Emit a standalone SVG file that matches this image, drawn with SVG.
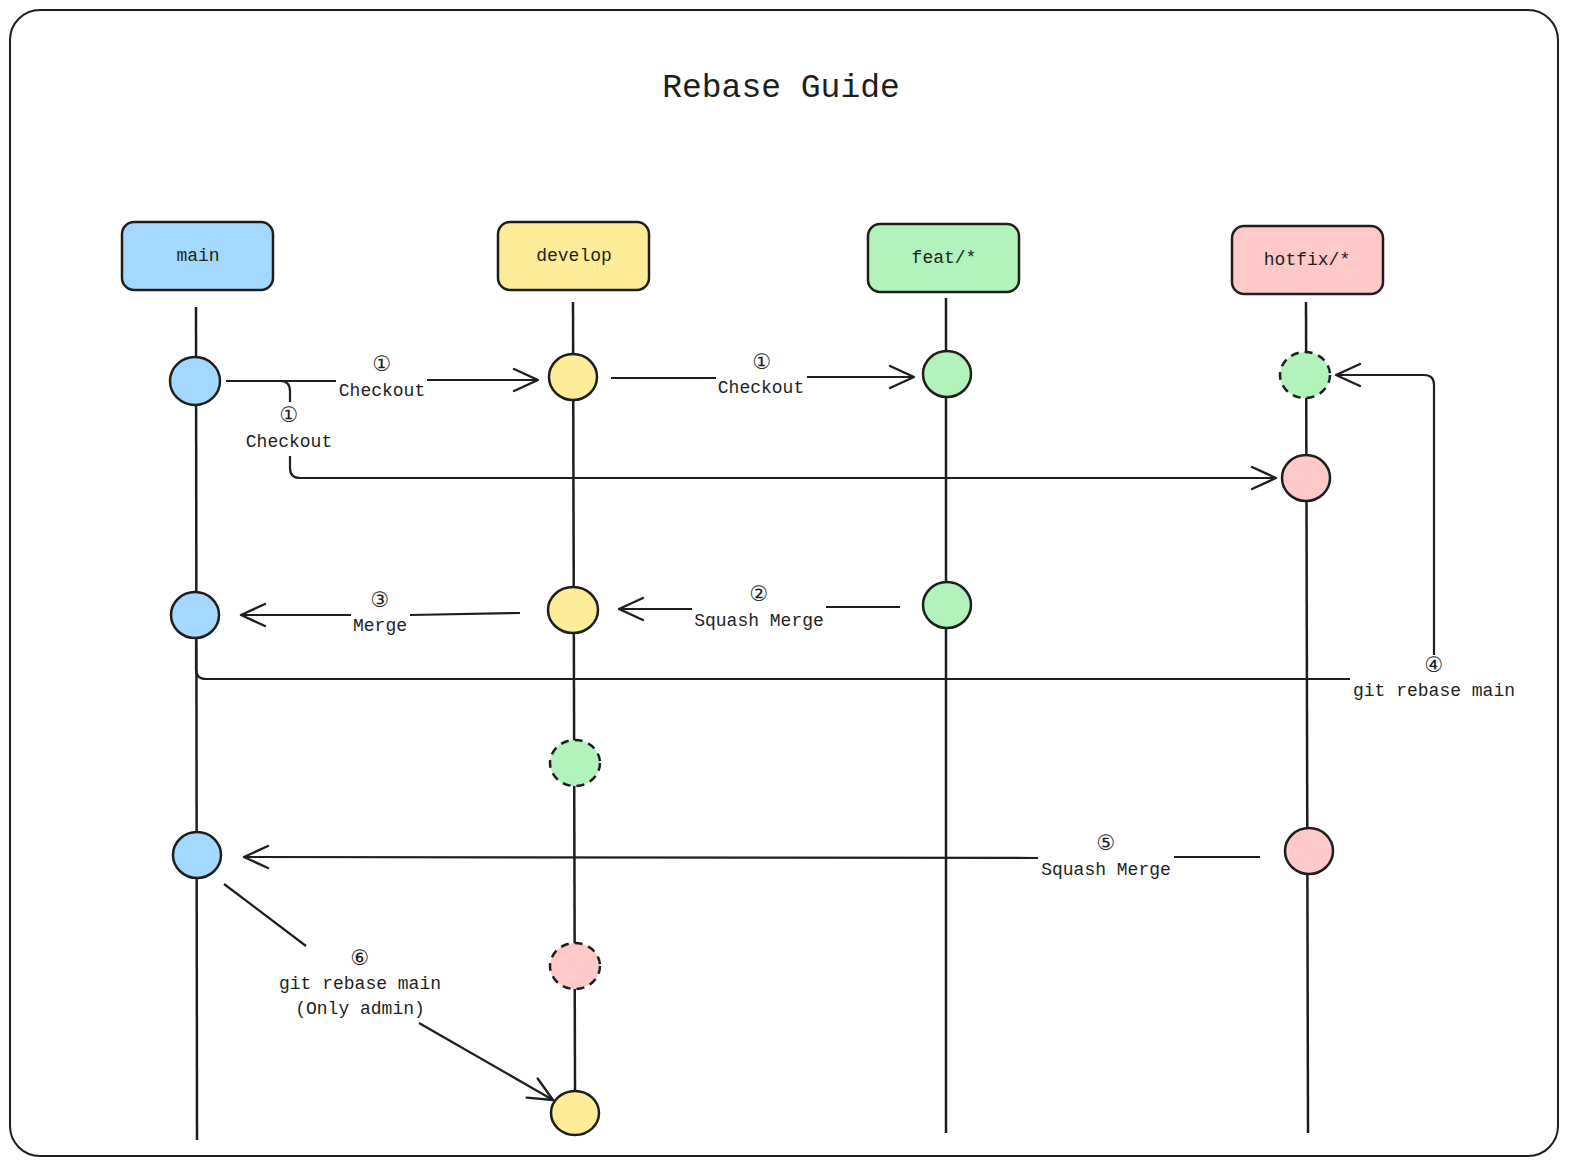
<svg xmlns="http://www.w3.org/2000/svg" width="1569" height="1166" viewBox="0 0 1569 1166">
<style>
text{font-family:"Liberation Mono","DejaVu Sans Mono",monospace;fill:#1e1e1e;text-anchor:middle}
.t{font-size:18px}
.n{font-family:"DejaVu Sans","Noto Sans",sans-serif;font-size:21px}
.title{font-size:33px}
.box{stroke:#1e1e1e;stroke-width:2.5}
.lane{stroke:#1e1e1e;stroke-width:2.5;fill:none}
.c{stroke:#1e1e1e;stroke-width:2.5}
.d{stroke-dasharray:8 6}
.e{stroke:#1e1e1e;stroke-width:2.2;fill:none}
.blue{fill:#a5d8ff}.yel{fill:#ffec99}.grn{fill:#b2f2bb}.red{fill:#ffc9c9}
</style>
<defs>
<marker id="ar" markerUnits="userSpaceOnUse" markerWidth="30" markerHeight="30" viewBox="0 0 30 30" refX="27" refY="15" orient="auto">
<path d="M3,4 L27,15 L3,26" fill="none" stroke="#1e1e1e" stroke-width="2.4" stroke-linecap="round" stroke-linejoin="round"/>
</marker>
</defs>
<rect x="10" y="10" width="1548" height="1146" rx="30" fill="#fff" stroke="#1e1e1e" stroke-width="2"/>
<text class="title" x="781" y="97">Rebase Guide</text>

<g id="lanes">
<line class="lane" x1="196" y1="307" x2="197" y2="1140"/>
<line class="lane" x1="573" y1="302" x2="575" y2="1090"/>
<line class="lane" x1="946" y1="298" x2="946" y2="1133"/>
<line class="lane" x1="1306" y1="302" x2="1308" y2="1133"/>
</g>

<g id="node-main"><rect class="box blue" x="122" y="222" width="151" height="68" rx="12"/><text class="t" x="198" y="261">main</text></g>
<g id="node-develop"><rect class="box yel" x="498" y="222" width="151" height="68" rx="12"/><text class="t" x="574" y="261">develop</text></g>
<g id="node-feat"><rect class="box grn" x="868" y="224" width="151" height="68" rx="12"/><text class="t" x="944" y="263">feat/*</text></g>
<g id="node-hotfix"><rect class="box red" x="1232" y="226" width="151" height="68" rx="12"/><text class="t" x="1307" y="265">hotfix/*</text></g>

<g id="commits">
<ellipse id="m1" class="c blue" cx="195" cy="381" rx="25" ry="24"/>
<ellipse id="m2" class="c blue" cx="195" cy="615" rx="24" ry="23"/>
<ellipse id="m3" class="c blue" cx="197" cy="855" rx="24" ry="23"/>
<ellipse id="d1" class="c yel" cx="573" cy="377" rx="24" ry="23"/>
<ellipse id="d2" class="c yel" cx="573" cy="610" rx="25" ry="23"/>
<ellipse id="d3" class="c d grn" cx="575" cy="763" rx="25" ry="23"/>
<ellipse id="d4" class="c d red" cx="575" cy="966" rx="25" ry="23"/>
<ellipse id="d5" class="c yel" cx="575" cy="1113" rx="24" ry="22"/>
<ellipse id="f1" class="c grn" cx="947" cy="374" rx="24" ry="23"/>
<ellipse id="f2" class="c grn" cx="947" cy="605" rx="24" ry="23"/>
<ellipse id="h1" class="c d grn" cx="1305" cy="375" rx="25" ry="23"/>
<ellipse id="h2" class="c red" cx="1306" cy="478" rx="24" ry="23"/>
<ellipse id="h3" class="c red" cx="1309" cy="851" rx="24" ry="23"/>
</g>

<g id="connectors">
<path class="e" d="M226,381 L336,381"/>
<path class="e" d="M427,380 L538,380" marker-end="url(#ar)"/>
<text class="n" x="382" y="371">①</text><text class="t" x="382" y="396">Checkout</text>

<path class="e" d="M611,378 L716,378"/>
<path class="e" d="M807,377 L914,377" marker-end="url(#ar)"/>
<text class="n" x="762" y="369">①</text><text class="t" x="761" y="393">Checkout</text>

<path class="e" d="M280,381 Q290,381 290,391 L290,402"/>
<path class="e" d="M290,456 L290,468 Q290,478 300,478 L1276,478" marker-end="url(#ar)"/>
<text class="n" x="289" y="422">①</text><text class="t" x="289" y="447">Checkout</text>

<path class="e" d="M520,613 L410,615"/>
<path class="e" d="M351,615 L241,615" marker-end="url(#ar)"/>
<text class="n" x="380" y="607">③</text><text class="t" x="380" y="631">Merge</text>

<path class="e" d="M900,607 L826,607"/>
<path class="e" d="M692,609 L619,609" marker-end="url(#ar)"/>
<text class="n" x="759" y="601">②</text><text class="t" x="759" y="626">Squash Merge</text>

<path class="e" d="M196,640 L196,669 Q196,679 206,679 L1350,679"/>
<path class="e" d="M1434,655 L1434,385 Q1434,375 1424,375 L1336,375" marker-end="url(#ar)"/>
<text class="n" x="1434" y="672">④</text><text class="t" x="1434" y="696">git rebase main</text>

<path class="e" d="M1260,857 L1174,857"/>
<path class="e" d="M1038,858 L244,857" marker-end="url(#ar)"/>
<text class="n" x="1106" y="850">⑤</text><text class="t" x="1106" y="875">Squash Merge</text>

<path class="e" d="M224,884 L306,946"/>
<path class="e" d="M419,1023 L553,1100" marker-end="url(#ar)"/>
<text class="n" x="360" y="965">⑥</text><text class="t" x="360" y="989">git rebase main</text><text class="t" x="360" y="1014">(Only admin)</text>
</g>
</svg>
